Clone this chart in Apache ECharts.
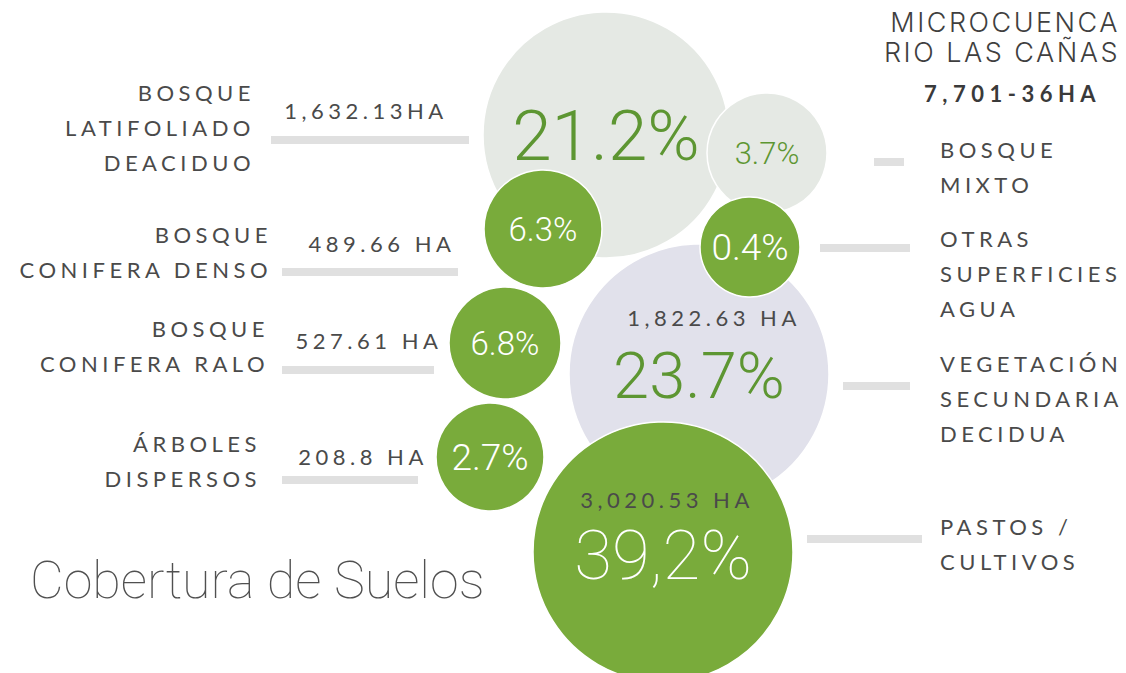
<!DOCTYPE html>
<html>
<head>
<meta charset="utf-8">
<title>Cobertura de Suelos</title>
<script src="https://cdn.jsdelivr.net/npm/echarts@6/dist/echarts.min.js"></script>
<style>
html, body { margin: 0; padding: 0; background: #fff; }
#main { width: 1126px; height: 673px; }
/* etiquetas en mayusculas con letras espaciadas */
#main text[style*="Lato"] { letter-spacing: 4.5px; }
#main text[style*="Lato"][style*="bold"] { letter-spacing: 5.5px; }
#main text[style*="Inter"] { letter-spacing: 2.5px; }
</style>
</head>
<body>
<div id="main"></div>
<script>
// datos del grafico
var categorias = ['Bosque\nLatifoliado\nDeaciduo', 'Bosque\nMixto', 'Bosque\nConifera Denso', 'Vegetación\nSecundaria\nDecidua',
  'Otras\nSuperficies\nAgua', 'Bosque\nConifera Ralo', 'Árboles\nDispersos', 'Pastos /\nCultivos'];
var porcentajes = [21.2, 3.7, 6.3, 23.7, 0.4, 6.8, 2.7, 39.2];
var etiquetasPct = ['21.2%', '3.7%', '6.3%', '23.7%', '0.4%', '6.8%', '2.7%', '39,2%'];
var hectareas = ['1,632.13HA', '', '489.66 HA', '1,822.63 HA', '', '527.61 HA', '208.8 HA', '3,020.53 HA'];
var totalHa = '7,701-36HA';
var titulo = ['MICROCUENCA', 'RIO LAS CAÑAS'];
var subtitulo = 'Cobertura de Suelos';

// disposicion (coordenadas del eje, 1 unidad = 1 px)
var burbujaX = [606, 767, 543, 699, 750, 505, 490, 663];
var burbujaY = [135, 153, 229, 374, 247, 343, 457, 552];
var burbujaR = [123, 60, 59, 130, 50, 56, 54, 130];
var burbujaColor = ['#e5e9e4', '#e5e9e4', '#79ab3b', '#e1e1eb', '#79ab3b', '#79ab3b', '#79ab3b', '#79ab3b'];
var pctColor = ['#5d9632', '#5d9632', '#fff', '#5d9632', '#fff', '#fff', '#fff', '#fff'];
var pctSize = [71, 31, 33, 65, 37, 33, 37, 69];
var pctPeso = [300, 300, 300, 300, 300, 300, 300, 100];
var pctDy = [0, 0, 0, 2, 0, 0, 0, 3];
// conectores [x1, x2, y]
var conectores = [[271, 469, 140], [874, 904, 162], [282, 458, 272], [843, 910, 386],
  [820, 910, 248], [282, 434, 370], [282, 418, 480], [807, 922, 539]];
// etiquetas de categoria [x, yArriba, alineacion]
var etiquetaPos = [[255, 75, 'right'], [940, 132, 'left'], [272, 217, 'right'], [940, 346, 'left'],
  [940, 221, 'left'], [269, 311, 'right'], [261, 426, 'right'], [940, 509, 'left']];
// centro de las etiquetas de hectareas
var haPos = [[364, 110], null, [380, 243], [712, 317], null, [367, 340], [361, 456], [665, 499]];

var gris = '#4a4a4a';

var burbujas = porcentajes.map(function (p, i) {
  return {
    value: [burbujaX[i], burbujaY[i], p],
    itemStyle: { color: burbujaColor[i] },
    label: {
      color: pctColor[i],
      fontSize: pctSize[i],
      fontWeight: pctPeso[i],
      fontFamily: 'Roboto',
      lineHeight: Math.round(pctSize[i] * 0.8),
      offset: [0, pctDy[i]],
      textBorderWidth: 0
    }
  };
});

var graficos = [];
categorias.forEach(function (c, i) {
  var pos = etiquetaPos[i];
  graficos.push({
    type: 'text', x: pos[0], y: pos[1], silent: true,
    style: {
      text: c.toUpperCase(), fill: gris, fontFamily: 'Lato', fontSize: 22,
      align: pos[2], verticalAlign: 'top', lineHeight: 35
    }
  });
  if (haPos[i]) {
    graficos.push({
      type: 'text', x: haPos[i][0] + 2, y: haPos[i][1], silent: true, z: 10,
      style: {
        text: hectareas[i], fill: gris, fontFamily: 'Lato', fontSize: 22,
        align: 'center', verticalAlign: 'middle'
      }
    });
  }
});
titulo.forEach(function (t, k) {
  graficos.push({
    type: 'text', x: 1120, y: 22 + k * 30, silent: true,
    style: { text: t, fill: '#3f3f3f', fontFamily: 'Inter', fontWeight: 300, fontSize: 27,
      align: 'right', verticalAlign: 'middle' }
  });
});
graficos.push({
  type: 'text', x: 924, y: 93, silent: true,
  style: { text: totalHa, fill: '#3a3a3a', fontFamily: 'Lato', fontWeight: 'bold', fontSize: 22,
    align: 'left', verticalAlign: 'middle' }
});
graficos.push({
  type: 'text', x: 30, y: 580, silent: true,
  style: { text: subtitulo, fill: '#505050', fontFamily: 'Roboto', fontWeight: 100, fontSize: 52,
    align: 'left', verticalAlign: 'middle' }
});

var chart = echarts.init(document.getElementById('main'), null, { renderer: 'svg' });
chart.setOption({
  animation: false,
  backgroundColor: '#fff',
  grid: { left: 0, right: 0, top: 0, bottom: 0 },
  xAxis: { type: 'value', min: 0, max: 1126, show: false },
  yAxis: { type: 'value', min: 0, max: 673, inverse: true, show: false },
  graphic: graficos,
  series: [
    {
      type: 'lines',
      coordinateSystem: 'cartesian2d',
      silent: true,
      symbol: 'none',
      z: 1,
      lineStyle: { color: '#e0e0e0', width: 8, opacity: 1 },
      data: conectores.map(function (c) { return { coords: [[c[0], c[2]], [c[1], c[2]]] }; })
    },
    {
      type: 'scatter',
      z: 2,
      silent: true,
      symbolSize: function (v, params) { return burbujaR[params.dataIndex] * 2; },
      itemStyle: { opacity: 1, borderColor: '#fff', borderWidth: 1.5 },
      label: {
        show: true,
        position: 'inside',
        formatter: function (p) { return etiquetasPct[p.dataIndex]; }
      },
      data: burbujas
    }
  ]
});
</script>
</body>
</html>
